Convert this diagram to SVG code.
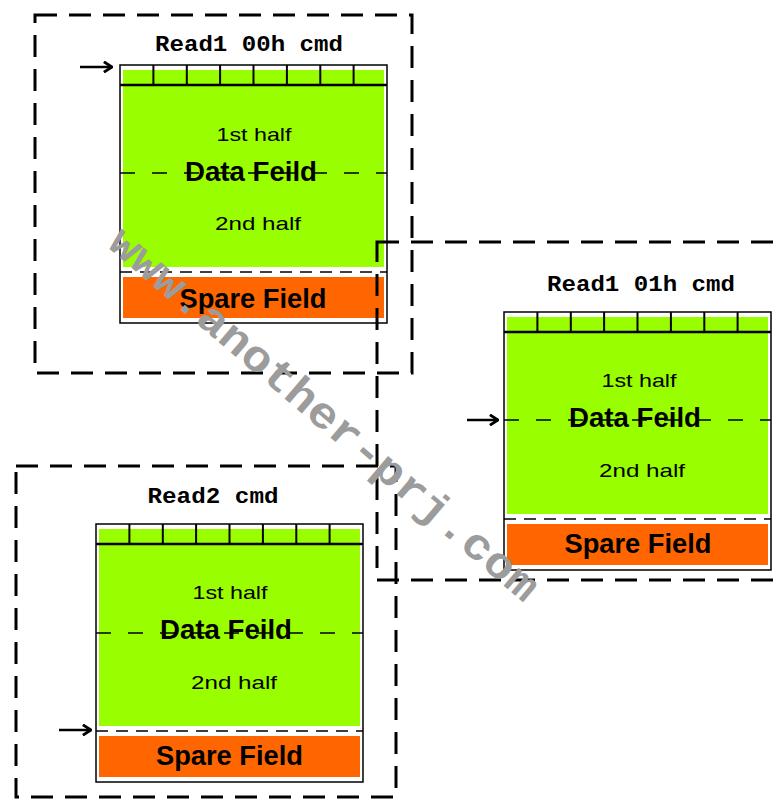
<svg xmlns="http://www.w3.org/2000/svg" width="777" height="800" viewBox="0 0 777 800">
<style>
.bg{fill:#ffffff}
.frame{fill:#ffffff;stroke:#000;stroke-width:1.5}
.green{fill:#99ff00}
.orange{fill:#ff6600}
.div{stroke:#000;stroke-width:2}
.hline{stroke:#000;stroke-width:2.5}
.mid{stroke:#000;stroke-width:1.5;stroke-dasharray:15 17}
.low{stroke:#000;stroke-width:1.5;stroke-dasharray:12 8}
.box{fill:none;stroke:#000;stroke-width:3;stroke-dasharray:22 12}
.title{font-family:"Liberation Mono","Courier New",monospace;font-weight:bold;font-size:22px;fill:#000;text-anchor:middle}
.half{font-family:"Liberation Sans",Arial,sans-serif;font-size:19px;fill:#000;text-anchor:middle}
.big{font-family:"Liberation Sans",Arial,sans-serif;font-weight:bold;font-size:27px;fill:#000;text-anchor:middle}
.arrow{stroke:#000;stroke-width:2.5;fill:none}
.wm{font-family:"Liberation Mono","Courier New",monospace;font-weight:bold;font-size:44px;fill:#9c9c9c}
</style>
<defs>
<marker id="ah" viewBox="0 0 10 10" refX="9" refY="5" markerWidth="5" markerHeight="5" orient="auto" markerUnits="strokeWidth">
<path d="M2.5,0.8 L9,5 L2.5,9.2" fill="none" stroke="#000" stroke-width="2.2"/>
</marker>
<g id="block">
<rect class="frame" x="0" y="0" width="267" height="258"/>
<rect class="green" x="3" y="5" width="261" height="15"/>
<g class="div">
<line x1="33.4" y1="0" x2="33.4" y2="20"/>
<line x1="66.8" y1="0" x2="66.8" y2="20"/>
<line x1="100.1" y1="0" x2="100.1" y2="20"/>
<line x1="133.5" y1="0" x2="133.5" y2="20"/>
<line x1="166.9" y1="0" x2="166.9" y2="20"/>
<line x1="200.3" y1="0" x2="200.3" y2="20"/>
<line x1="233.6" y1="0" x2="233.6" y2="20"/>
</g>
<rect class="green" x="3" y="20" width="261" height="182"/>
<line class="hline" x1="0" y1="20" x2="267" y2="20"/>
<rect class="orange" x="3" y="212" width="261" height="41"/>
<line class="low" x1="0" y1="207" x2="267" y2="207"/>
</g>
</defs>
<rect class="bg" x="0" y="0" width="777" height="800"/>

<g id="read1-00h">
<text class="title" x="249" y="51" textLength="188" lengthAdjust="spacingAndGlyphs">Read1 00h cmd</text>
<use href="#block" x="120" y="65"/>
<text class="half" x="254" y="141" textLength="75" lengthAdjust="spacingAndGlyphs">1st half</text>
<line class="mid" x1="120" y1="173" x2="387" y2="173"/>
<text class="big" x="251" y="181" textLength="132" lengthAdjust="spacingAndGlyphs">Data Feild</text>
<text class="half" x="258" y="230" textLength="86" lengthAdjust="spacingAndGlyphs">2nd half</text>
<text class="big" x="253" y="308" textLength="147" lengthAdjust="spacingAndGlyphs">Spare Field</text>
</g>

<g id="read1-01h">
<text class="title" x="641" y="291" textLength="188" lengthAdjust="spacingAndGlyphs">Read1 01h cmd</text>
<use href="#block" x="504" y="312"/>
<text class="half" x="639" y="387" textLength="75" lengthAdjust="spacingAndGlyphs">1st half</text>
<line class="mid" x1="504" y1="420" x2="771" y2="420"/>
<text class="big" x="635" y="427" textLength="132" lengthAdjust="spacingAndGlyphs">Data Feild</text>
<text class="half" x="642" y="477" textLength="86" lengthAdjust="spacingAndGlyphs">2nd half</text>
<text class="big" x="638" y="553" textLength="147" lengthAdjust="spacingAndGlyphs">Spare Field</text>
</g>

<g id="read2">
<text class="title" x="213" y="503" textLength="131" lengthAdjust="spacingAndGlyphs">Read2 cmd</text>
<use href="#block" x="96" y="524"/>
<text class="half" x="230" y="599" textLength="75" lengthAdjust="spacingAndGlyphs">1st half</text>
<line class="mid" x1="96" y1="633" x2="363" y2="633"/>
<text class="big" x="226" y="639" textLength="132" lengthAdjust="spacingAndGlyphs">Data Feild</text>
<text class="half" x="234" y="689" textLength="86" lengthAdjust="spacingAndGlyphs">2nd half</text>
<text class="big" x="229.5" y="765" textLength="147" lengthAdjust="spacingAndGlyphs">Spare Field</text>
</g>

<g id="groups">
<rect class="box" x="35" y="15" width="377" height="358"/>
<rect class="box" x="377" y="242" width="420" height="338"/>
<rect class="box" x="16" y="466" width="380" height="331"/>
</g>

<g id="connectors">
<line class="arrow" x1="80" y1="67" x2="112" y2="67" marker-end="url(#ah)"/>
<line class="arrow" x1="467" y1="420" x2="498" y2="420" marker-end="url(#ah)"/>
<line class="arrow" x1="59" y1="730" x2="91" y2="730" marker-end="url(#ah)"/>
</g>

<text class="wm" transform="translate(106,246) rotate(40.5)" x="0" y="0" textLength="550" lengthAdjust="spacingAndGlyphs">www.another-prj.com</text>
</svg>
